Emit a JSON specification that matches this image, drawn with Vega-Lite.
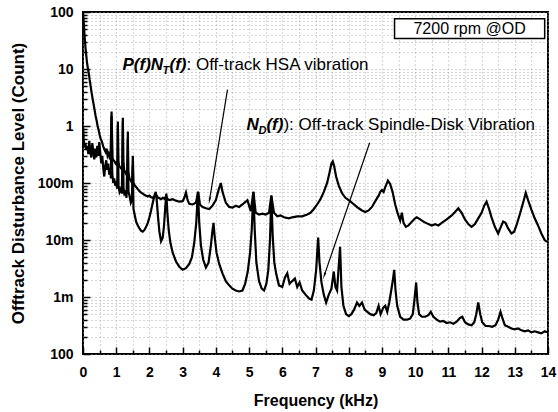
{
  "$schema": "https://vega.github.io/schema/vega-lite/v6.json",
  "width": 465,
  "height": 342,
  "autosize": {"type": "none"},
  "padding": {"left": 83, "top": 12, "right": 10, "bottom": 58},
  "background": "white",
  "config": {
    "font": "Liberation Sans",
    "view": {"stroke": "black", "strokeWidth": 2}
  },
  "datasets": {
    "spectra": [
      {"s":"PNT","f":0,"v":100},{"s":"PNT","f":0.02,"v":70},{"s":"PNT","f":0.04,"v":45},{"s":"PNT","f":0.06,"v":30},{"s":"PNT","f":0.08,"v":22},{"s":"PNT","f":0.1,"v":17},{"s":"PNT","f":0.12,"v":13},{"s":"PNT","f":0.15,"v":10},{"s":"PNT","f":0.18,"v":8},{"s":"PNT","f":0.2,"v":6.5},{"s":"PNT","f":0.23,"v":5},{"s":"PNT","f":0.26,"v":3.8},{"s":"PNT","f":0.29,"v":3},{"s":"PNT","f":0.32,"v":2.4},{"s":"PNT","f":0.35,"v":1.9},{"s":"PNT","f":0.38,"v":1.5},{"s":"PNT","f":0.41,"v":1.25},{"s":"PNT","f":0.44,"v":1.0},{"s":"PNT","f":0.47,"v":0.85},{"s":"PNT","f":0.5,"v":0.7},{"s":"PNT","f":0.53,"v":0.6},{"s":"PNT","f":0.56,"v":0.55},{"s":"PNT","f":0.59,"v":0.48},{"s":"PNT","f":0.62,"v":0.42},{"s":"PNT","f":0.65,"v":0.38},{"s":"PNT","f":0.68,"v":0.35},{"s":"PNT","f":0.71,"v":0.4},{"s":"PNT","f":0.74,"v":0.3},{"s":"PNT","f":0.77,"v":0.33},{"s":"PNT","f":0.8,"v":0.28},{"s":"PNT","f":0.83,"v":0.3},{"s":"PNT","f":0.85,"v":1.0},{"s":"PNT","f":0.86,"v":1.8},{"s":"PNT","f":0.87,"v":0.9},{"s":"PNT","f":0.89,"v":0.27},{"s":"PNT","f":0.92,"v":0.25},{"s":"PNT","f":0.95,"v":0.24},{"s":"PNT","f":0.98,"v":0.22},{"s":"PNT","f":1.01,"v":0.21},{"s":"PNT","f":1.04,"v":0.25},{"s":"PNT","f":1.05,"v":1.2},{"s":"PNT","f":1.06,"v":0.24},{"s":"PNT","f":1.09,"v":0.2},{"s":"PNT","f":1.12,"v":0.19},{"s":"PNT","f":1.15,"v":0.18},{"s":"PNT","f":1.19,"v":0.2},{"s":"PNT","f":1.2,"v":1.4},{"s":"PNT","f":1.21,"v":0.25},{"s":"PNT","f":1.24,"v":0.17},{"s":"PNT","f":1.28,"v":0.15},{"s":"PNT","f":1.31,"v":0.14},{"s":"PNT","f":1.34,"v":0.16},{"s":"PNT","f":1.35,"v":0.8},{"s":"PNT","f":1.36,"v":0.16},{"s":"PNT","f":1.4,"v":0.12},{"s":"PNT","f":1.44,"v":0.11},{"s":"PNT","f":1.48,"v":0.1},{"s":"PNT","f":1.5,"v":0.3},{"s":"PNT","f":1.52,"v":0.1},{"s":"PNT","f":1.56,"v":0.09},{"s":"PNT","f":1.6,"v":0.085},{"s":"PNT","f":1.65,"v":0.078},{"s":"PNT","f":1.7,"v":0.072},{"s":"PNT","f":1.75,"v":0.068},{"s":"PNT","f":1.8,"v":0.065},{"s":"PNT","f":1.85,"v":0.062},{"s":"PNT","f":1.9,"v":0.06},{"s":"PNT","f":1.95,"v":0.058},{"s":"PNT","f":2.0,"v":0.06},{"s":"PNT","f":2.05,"v":0.056},{"s":"PNT","f":2.1,"v":0.055},{"s":"PNT","f":2.15,"v":0.058},{"s":"PNT","f":2.2,"v":0.062},{"s":"PNT","f":2.25,"v":0.056},{"s":"PNT","f":2.3,"v":0.054},{"s":"PNT","f":2.35,"v":0.052},{"s":"PNT","f":2.4,"v":0.055},{"s":"PNT","f":2.45,"v":0.053},{"s":"PNT","f":2.5,"v":0.058},{"s":"PNT","f":2.55,"v":0.052},{"s":"PNT","f":2.6,"v":0.05},{"s":"PNT","f":2.7,"v":0.052},{"s":"PNT","f":2.8,"v":0.049},{"s":"PNT","f":2.9,"v":0.047},{"s":"PNT","f":3.0,"v":0.048},{"s":"PNT","f":3.05,"v":0.055},{"s":"PNT","f":3.1,"v":0.068},{"s":"PNT","f":3.15,"v":0.05},{"s":"PNT","f":3.2,"v":0.043},{"s":"PNT","f":3.3,"v":0.042},{"s":"PNT","f":3.4,"v":0.045},{"s":"PNT","f":3.47,"v":0.07},{"s":"PNT","f":3.52,"v":0.042},{"s":"PNT","f":3.6,"v":0.038},{"s":"PNT","f":3.7,"v":0.036},{"s":"PNT","f":3.8,"v":0.035},{"s":"PNT","f":3.9,"v":0.04},{"s":"PNT","f":4.0,"v":0.05},{"s":"PNT","f":4.08,"v":0.075},{"s":"PNT","f":4.15,"v":0.1},{"s":"PNT","f":4.2,"v":0.07},{"s":"PNT","f":4.3,"v":0.045},{"s":"PNT","f":4.4,"v":0.038},{"s":"PNT","f":4.5,"v":0.037},{"s":"PNT","f":4.6,"v":0.04},{"s":"PNT","f":4.7,"v":0.038},{"s":"PNT","f":4.8,"v":0.042},{"s":"PNT","f":4.9,"v":0.047},{"s":"PNT","f":4.95,"v":0.05},{"s":"PNT","f":5.0,"v":0.04},{"s":"PNT","f":5.05,"v":0.032},{"s":"PNT","f":5.13,"v":0.07},{"s":"PNT","f":5.2,"v":0.03},{"s":"PNT","f":5.3,"v":0.028},{"s":"PNT","f":5.4,"v":0.029},{"s":"PNT","f":5.5,"v":0.028},{"s":"PNT","f":5.6,"v":0.03},{"s":"PNT","f":5.67,"v":0.06},{"s":"PNT","f":5.75,"v":0.03},{"s":"PNT","f":5.85,"v":0.026},{"s":"PNT","f":5.95,"v":0.027},{"s":"PNT","f":6.05,"v":0.025},{"s":"PNT","f":6.2,"v":0.024},{"s":"PNT","f":6.3,"v":0.025},{"s":"PNT","f":6.45,"v":0.026},{"s":"PNT","f":6.6,"v":0.026},{"s":"PNT","f":6.75,"v":0.028},{"s":"PNT","f":6.85,"v":0.03},{"s":"PNT","f":6.95,"v":0.035},{"s":"PNT","f":7.05,"v":0.042},{"s":"PNT","f":7.15,"v":0.052},{"s":"PNT","f":7.25,"v":0.07},{"s":"PNT","f":7.35,"v":0.1},{"s":"PNT","f":7.42,"v":0.15},{"s":"PNT","f":7.48,"v":0.22},{"s":"PNT","f":7.52,"v":0.24},{"s":"PNT","f":7.56,"v":0.2},{"s":"PNT","f":7.62,"v":0.13},{"s":"PNT","f":7.7,"v":0.09},{"s":"PNT","f":7.8,"v":0.066},{"s":"PNT","f":7.9,"v":0.055},{"s":"PNT","f":8.0,"v":0.05},{"s":"PNT","f":8.1,"v":0.045},{"s":"PNT","f":8.2,"v":0.04},{"s":"PNT","f":8.3,"v":0.036},{"s":"PNT","f":8.4,"v":0.033},{"s":"PNT","f":8.5,"v":0.031},{"s":"PNT","f":8.6,"v":0.033},{"s":"PNT","f":8.7,"v":0.038},{"s":"PNT","f":8.8,"v":0.048},{"s":"PNT","f":8.9,"v":0.06},{"s":"PNT","f":8.95,"v":0.07},{"s":"PNT","f":9.0,"v":0.075},{"s":"PNT","f":9.05,"v":0.07},{"s":"PNT","f":9.1,"v":0.085},{"s":"PNT","f":9.18,"v":0.11},{"s":"PNT","f":9.25,"v":0.095},{"s":"PNT","f":9.32,"v":0.07},{"s":"PNT","f":9.4,"v":0.042},{"s":"PNT","f":9.47,"v":0.03},{"s":"PNT","f":9.55,"v":0.022},{"s":"PNT","f":9.6,"v":0.03},{"s":"PNT","f":9.65,"v":0.02},{"s":"PNT","f":9.72,"v":0.017},{"s":"PNT","f":9.8,"v":0.018},{"s":"PNT","f":9.9,"v":0.021},{"s":"PNT","f":10.0,"v":0.024},{"s":"PNT","f":10.05,"v":0.025},{"s":"PNT","f":10.15,"v":0.023},{"s":"PNT","f":10.25,"v":0.021},{"s":"PNT","f":10.4,"v":0.019},{"s":"PNT","f":10.5,"v":0.018},{"s":"PNT","f":10.6,"v":0.019},{"s":"PNT","f":10.7,"v":0.018},{"s":"PNT","f":10.8,"v":0.02},{"s":"PNT","f":10.95,"v":0.023},{"s":"PNT","f":11.1,"v":0.027},{"s":"PNT","f":11.2,"v":0.031},{"s":"PNT","f":11.3,"v":0.036},{"s":"PNT","f":11.4,"v":0.03},{"s":"PNT","f":11.5,"v":0.023},{"s":"PNT","f":11.6,"v":0.019},{"s":"PNT","f":11.7,"v":0.017},{"s":"PNT","f":11.8,"v":0.019},{"s":"PNT","f":11.9,"v":0.024},{"s":"PNT","f":12.0,"v":0.03},{"s":"PNT","f":12.08,"v":0.04},{"s":"PNT","f":12.15,"v":0.047},{"s":"PNT","f":12.22,"v":0.036},{"s":"PNT","f":12.3,"v":0.025},{"s":"PNT","f":12.4,"v":0.017},{"s":"PNT","f":12.5,"v":0.013},{"s":"PNT","f":12.58,"v":0.017},{"s":"PNT","f":12.65,"v":0.021},{"s":"PNT","f":12.72,"v":0.02},{"s":"PNT","f":12.8,"v":0.016},{"s":"PNT","f":12.9,"v":0.013},{"s":"PNT","f":12.98,"v":0.014},{"s":"PNT","f":13.05,"v":0.018},{"s":"PNT","f":13.15,"v":0.028},{"s":"PNT","f":13.25,"v":0.045},{"s":"PNT","f":13.33,"v":0.067},{"s":"PNT","f":13.4,"v":0.05},{"s":"PNT","f":13.5,"v":0.034},{"s":"PNT","f":13.6,"v":0.024},{"s":"PNT","f":13.7,"v":0.018},{"s":"PNT","f":13.8,"v":0.013},{"s":"PNT","f":13.9,"v":0.01},{"s":"PNT","f":13.97,"v":0.0093},
      {"s":"ND","f":0,"v":1.0},{"s":"ND","f":0.02,"v":0.6},{"s":"ND","f":0.04,"v":0.42},{"s":"ND","f":0.07,"v":0.5},{"s":"ND","f":0.1,"v":0.38},{"s":"ND","f":0.13,"v":0.45},{"s":"ND","f":0.16,"v":0.32},{"s":"ND","f":0.19,"v":0.55},{"s":"ND","f":0.22,"v":0.35},{"s":"ND","f":0.25,"v":0.28},{"s":"ND","f":0.28,"v":0.5},{"s":"ND","f":0.31,"v":0.36},{"s":"ND","f":0.34,"v":0.26},{"s":"ND","f":0.37,"v":0.4},{"s":"ND","f":0.4,"v":0.28},{"s":"ND","f":0.43,"v":0.45},{"s":"ND","f":0.46,"v":0.3},{"s":"ND","f":0.49,"v":0.52},{"s":"ND","f":0.52,"v":0.34},{"s":"ND","f":0.55,"v":0.22},{"s":"ND","f":0.58,"v":0.3},{"s":"ND","f":0.61,"v":0.18},{"s":"ND","f":0.64,"v":0.13},{"s":"ND","f":0.67,"v":0.2},{"s":"ND","f":0.7,"v":0.25},{"s":"ND","f":0.73,"v":0.17},{"s":"ND","f":0.76,"v":0.22},{"s":"ND","f":0.79,"v":0.14},{"s":"ND","f":0.82,"v":0.18},{"s":"ND","f":0.84,"v":0.12},{"s":"ND","f":0.86,"v":1.5},{"s":"ND","f":0.88,"v":0.15},{"s":"ND","f":0.91,"v":0.1},{"s":"ND","f":0.94,"v":0.12},{"s":"ND","f":0.97,"v":0.09},{"s":"ND","f":1.0,"v":0.1},{"s":"ND","f":1.03,"v":0.08},{"s":"ND","f":1.05,"v":1.0},{"s":"ND","f":1.07,"v":0.09},{"s":"ND","f":1.1,"v":0.07},{"s":"ND","f":1.14,"v":0.08},{"s":"ND","f":1.17,"v":0.065},{"s":"ND","f":1.2,"v":1.2},{"s":"ND","f":1.22,"v":0.08},{"s":"ND","f":1.25,"v":0.06},{"s":"ND","f":1.28,"v":0.075},{"s":"ND","f":1.31,"v":0.055},{"s":"ND","f":1.35,"v":0.6},{"s":"ND","f":1.37,"v":0.07},{"s":"ND","f":1.4,"v":0.06},{"s":"ND","f":1.44,"v":0.045},{"s":"ND","f":1.47,"v":0.05},{"s":"ND","f":1.5,"v":0.2},{"s":"ND","f":1.52,"v":0.035},{"s":"ND","f":1.56,"v":0.027},{"s":"ND","f":1.6,"v":0.021},{"s":"ND","f":1.65,"v":0.018},{"s":"ND","f":1.7,"v":0.016},{"s":"ND","f":1.75,"v":0.0145},{"s":"ND","f":1.8,"v":0.014},{"s":"ND","f":1.85,"v":0.015},{"s":"ND","f":1.9,"v":0.017},{"s":"ND","f":1.95,"v":0.02},{"s":"ND","f":2.0,"v":0.025},{"s":"ND","f":2.05,"v":0.033},{"s":"ND","f":2.1,"v":0.045},{"s":"ND","f":2.15,"v":0.06},{"s":"ND","f":2.19,"v":0.07},{"s":"ND","f":2.22,"v":0.05},{"s":"ND","f":2.26,"v":0.025},{"s":"ND","f":2.3,"v":0.014},{"s":"ND","f":2.35,"v":0.0095},{"s":"ND","f":2.4,"v":0.011},{"s":"ND","f":2.44,"v":0.018},{"s":"ND","f":2.48,"v":0.04},{"s":"ND","f":2.51,"v":0.065},{"s":"ND","f":2.54,"v":0.03},{"s":"ND","f":2.58,"v":0.015},{"s":"ND","f":2.63,"v":0.009},{"s":"ND","f":2.7,"v":0.006},{"s":"ND","f":2.8,"v":0.0042},{"s":"ND","f":2.9,"v":0.0034},{"s":"ND","f":3.0,"v":0.003},{"s":"ND","f":3.1,"v":0.0032},{"s":"ND","f":3.2,"v":0.0038},{"s":"ND","f":3.28,"v":0.005},{"s":"ND","f":3.35,"v":0.009},{"s":"ND","f":3.41,"v":0.02},{"s":"ND","f":3.46,"v":0.07},{"s":"ND","f":3.5,"v":0.02},{"s":"ND","f":3.55,"v":0.008},{"s":"ND","f":3.62,"v":0.0045},{"s":"ND","f":3.7,"v":0.0033},{"s":"ND","f":3.78,"v":0.004},{"s":"ND","f":3.85,"v":0.008},{"s":"ND","f":3.9,"v":0.015},{"s":"ND","f":3.93,"v":0.02},{"s":"ND","f":3.96,"v":0.012},{"s":"ND","f":4.02,"v":0.006},{"s":"ND","f":4.1,"v":0.0038},{"s":"ND","f":4.2,"v":0.0026},{"s":"ND","f":4.3,"v":0.0019},{"s":"ND","f":4.4,"v":0.0016},{"s":"ND","f":4.5,"v":0.0014},{"s":"ND","f":4.6,"v":0.0013},{"s":"ND","f":4.7,"v":0.00125},{"s":"ND","f":4.8,"v":0.0013},{"s":"ND","f":4.88,"v":0.0017},{"s":"ND","f":4.96,"v":0.0028},{"s":"ND","f":5.03,"v":0.006},{"s":"ND","f":5.08,"v":0.015},{"s":"ND","f":5.13,"v":0.07},{"s":"ND","f":5.17,"v":0.015},{"s":"ND","f":5.22,"v":0.004},{"s":"ND","f":5.3,"v":0.0019},{"s":"ND","f":5.38,"v":0.0014},{"s":"ND","f":5.45,"v":0.0013},{"s":"ND","f":5.52,"v":0.0017},{"s":"ND","f":5.58,"v":0.003},{"s":"ND","f":5.63,"v":0.01},{"s":"ND","f":5.67,"v":0.06},{"s":"ND","f":5.71,"v":0.012},{"s":"ND","f":5.76,"v":0.004},{"s":"ND","f":5.82,"v":0.0025},{"s":"ND","f":5.9,"v":0.0016},{"s":"ND","f":6.0,"v":0.0015},{"s":"ND","f":6.08,"v":0.0022},{"s":"ND","f":6.15,"v":0.0026},{"s":"ND","f":6.22,"v":0.0017},{"s":"ND","f":6.3,"v":0.0019},{"s":"ND","f":6.38,"v":0.0021},{"s":"ND","f":6.45,"v":0.0015},{"s":"ND","f":6.52,"v":0.0018},{"s":"ND","f":6.6,"v":0.0013},{"s":"ND","f":6.7,"v":0.0011},{"s":"ND","f":6.8,"v":0.00095},{"s":"ND","f":6.88,"v":0.0009},{"s":"ND","f":6.95,"v":0.0013},{"s":"ND","f":7.02,"v":0.003},{"s":"ND","f":7.08,"v":0.011},{"s":"ND","f":7.12,"v":0.004},{"s":"ND","f":7.18,"v":0.0018},{"s":"ND","f":7.25,"v":0.0011},{"s":"ND","f":7.32,"v":0.0008},{"s":"ND","f":7.4,"v":0.0011},{"s":"ND","f":7.48,"v":0.0014},{"s":"ND","f":7.55,"v":0.0028},{"s":"ND","f":7.6,"v":0.0015},{"s":"ND","f":7.65,"v":0.0013},{"s":"ND","f":7.7,"v":0.0035},{"s":"ND","f":7.74,"v":0.0076},{"s":"ND","f":7.78,"v":0.0015},{"s":"ND","f":7.84,"v":0.0007},{"s":"ND","f":7.92,"v":0.0005},{"s":"ND","f":8.0,"v":0.00046},{"s":"ND","f":8.08,"v":0.0005},{"s":"ND","f":8.16,"v":0.0006},{"s":"ND","f":8.25,"v":0.0008},{"s":"ND","f":8.32,"v":0.0007},{"s":"ND","f":8.4,"v":0.0008},{"s":"ND","f":8.48,"v":0.0006},{"s":"ND","f":8.56,"v":0.00055},{"s":"ND","f":8.65,"v":0.0005},{"s":"ND","f":8.75,"v":0.00048},{"s":"ND","f":8.83,"v":0.00052},{"s":"ND","f":8.9,"v":0.0007},{"s":"ND","f":8.96,"v":0.0005},{"s":"ND","f":9.04,"v":0.00065},{"s":"ND","f":9.1,"v":0.0007},{"s":"ND","f":9.16,"v":0.00055},{"s":"ND","f":9.22,"v":0.0008},{"s":"ND","f":9.28,"v":0.0013},{"s":"ND","f":9.33,"v":0.002},{"s":"ND","f":9.37,"v":0.003},{"s":"ND","f":9.41,"v":0.0013},{"s":"ND","f":9.46,"v":0.0007},{"s":"ND","f":9.55,"v":0.00045},{"s":"ND","f":9.65,"v":0.0004},{"s":"ND","f":9.75,"v":0.0004},{"s":"ND","f":9.85,"v":0.00042},{"s":"ND","f":9.93,"v":0.0005},{"s":"ND","f":9.98,"v":0.0009},{"s":"ND","f":10.03,"v":0.0018},{"s":"ND","f":10.07,"v":0.0008},{"s":"ND","f":10.12,"v":0.0005},{"s":"ND","f":10.2,"v":0.00045},{"s":"ND","f":10.3,"v":0.00045},{"s":"ND","f":10.4,"v":0.00048},{"s":"ND","f":10.47,"v":0.00055},{"s":"ND","f":10.55,"v":0.00045},{"s":"ND","f":10.65,"v":0.0004},{"s":"ND","f":10.75,"v":0.00037},{"s":"ND","f":10.85,"v":0.00038},{"s":"ND","f":10.95,"v":0.00035},{"s":"ND","f":11.05,"v":0.00036},{"s":"ND","f":11.15,"v":0.00034},{"s":"ND","f":11.25,"v":0.00037},{"s":"ND","f":11.35,"v":0.00043},{"s":"ND","f":11.42,"v":0.00045},{"s":"ND","f":11.5,"v":0.00036},{"s":"ND","f":11.6,"v":0.00033},{"s":"ND","f":11.7,"v":0.00032},{"s":"ND","f":11.78,"v":0.00036},{"s":"ND","f":11.84,"v":0.0005},{"s":"ND","f":11.9,"v":0.0008},{"s":"ND","f":11.96,"v":0.0005},{"s":"ND","f":12.02,"v":0.00036},{"s":"ND","f":12.12,"v":0.00031},{"s":"ND","f":12.22,"v":0.00031},{"s":"ND","f":12.32,"v":0.0003},{"s":"ND","f":12.42,"v":0.00032},{"s":"ND","f":12.5,"v":0.0004},{"s":"ND","f":12.57,"v":0.00055},{"s":"ND","f":12.63,"v":0.00042},{"s":"ND","f":12.7,"v":0.00032},{"s":"ND","f":12.8,"v":0.0003},{"s":"ND","f":12.9,"v":0.00028},{"s":"ND","f":13.0,"v":0.00027},{"s":"ND","f":13.1,"v":0.00028},{"s":"ND","f":13.2,"v":0.00026},{"s":"ND","f":13.3,"v":0.00025},{"s":"ND","f":13.4,"v":0.00026},{"s":"ND","f":13.5,"v":0.00024},{"s":"ND","f":13.6,"v":0.00025},{"s":"ND","f":13.7,"v":0.00024},{"s":"ND","f":13.8,"v":0.00023},{"s":"ND","f":13.9,"v":0.00025},{"s":"ND","f":13.97,"v":0.00024}
    ],
    "arrows": [
      {"id":"hsa","f":4.35,"v":4.35},{"id":"hsa","f":3.81,"v":0.0507},
      {"id":"nd","f":8.63,"v":0.509},{"id":"nd","f":7.27,"v":0.00244}
    ],
    "heads": [
      {"id":"hsa","f":3.81,"v":0.0507},
      {"id":"nd","f":7.27,"v":0.00244}
    ],
    "notes": [
      {"id":"hsa","f":1.19,"v":11.9},
      {"id":"nd","f":4.92,"v":1.05}
    ],
    "box": [
      {"f":9.38,"f2":13.9,"v":76.5,"v2":34.2}
    ],
    "boxlabel": [
      {"f":11.64,"v":51.1,"label":"7200 rpm @OD"}
    ]
  },
  "encoding": {
    "x": {
      "field": "f", "type": "quantitative",
      "scale": {"domain": [0, 14], "nice": false, "zero": false},
      "axis": {
        "title": "Frequency (kHz)",
        "values": [0,0.5,1,1.5,2,2.5,3,3.5,4,4.5,5,5.5,6,6.5,7,7.5,8,8.5,9,9.5,10,10.5,11,11.5,12,12.5,13,13.5,14],
        "labelExpr": "round(datum.value) == datum.value ? format(datum.value, 'd') : ''",
        "tickSize": {"condition": {"test": "round(datum.value) == datum.value", "value": -7}, "value": -4},
        "tickColor": "black", "tickWidth": 1.5,
        "domain": false,
        "grid": true, "gridDash": [1, 3], "gridColor": "#999", "gridWidth": 1, "gridOpacity": 0.8,
        "labelFlush": false, "labelOverlap": false, "labelBound": false,
        "labelFont": "Liberation Sans", "labelFontWeight": "bold", "labelFontSize": 14, "labelColor": "black",
        "labelPadding": 18,
        "titleFont": "Liberation Sans", "titleFontWeight": "bold", "titleFontSize": 16, "titleColor": "black",
        "titlePadding": 10
      }
    },
    "y": {
      "field": "v", "type": "quantitative",
      "scale": {"type": "log", "domain": [0.0001, 100], "nice": false},
      "axis": {
        "title": "Offtrack Disturbance Level (Count)",
        "values": [0.0001,0.0002,0.0003,0.0004,0.0005,0.0006,0.0007,0.0008,0.0009,0.001,0.002,0.003,0.004,0.005,0.006,0.007,0.008,0.009,0.01,0.02,0.03,0.04,0.05,0.06,0.07,0.08,0.09,0.1,0.2,0.3,0.4,0.5,0.6,0.7,0.8,0.9,1,2,3,4,5,6,7,8,9,10,20,30,40,50,60,70,80,90,100],
        "labelExpr": "abs(log(datum.value)/LN10 - round(log(datum.value)/LN10)) < 0.001 ? (round(log(datum.value)/LN10) == -4 ? '100' : round(log(datum.value)/LN10) == -3 ? '1m' : round(log(datum.value)/LN10) == -2 ? '10m' : round(log(datum.value)/LN10) == -1 ? '100m' : round(log(datum.value)/LN10) == 0 ? '1' : round(log(datum.value)/LN10) == 1 ? '10' : '100') : ''",
        "tickSize": {"condition": {"test": "abs(log(datum.value)/LN10 - round(log(datum.value)/LN10)) < 0.001", "value": -7}, "value": -4},
        "tickColor": "black", "tickWidth": 1.5,
        "domain": false,
        "grid": true, "gridDash": [1, 3], "gridColor": "#999", "gridWidth": 1, "gridOpacity": 0.8,
        "labelFlush": false, "labelOverlap": false, "labelBound": false,
        "labelFont": "Liberation Sans", "labelFontWeight": "bold", "labelFontSize": 14, "labelColor": "black",
        "labelPadding": 17,
        "titleFont": "Liberation Sans", "titleFontWeight": "bold", "titleFontSize": 17, "titleColor": "black",
        "titlePadding": 10
      }
    }
  },
  "layer": [
    {
      "data": {"name": "spectra"},
      "mark": {"type": "line", "color": "black", "strokeWidth": 2.2, "clip": true},
      "encoding": {"detail": {"field": "s", "type": "nominal"}}
    },
    {
      "data": {"name": "arrows"},
      "mark": {"type": "line", "color": "black", "strokeWidth": 1.2},
      "encoding": {"detail": {"field": "id", "type": "nominal"}}
    },
    {
      "data": {"name": "heads"},
      "transform": [{"filter": "datum.id == 'hsa'"}],
      "mark": {"type": "point", "shape": "wedge", "angle": 189, "size": 70, "filled": true, "color": "black", "opacity": 1},
      "encoding": {}
    },
    {
      "data": {"name": "heads"},
      "transform": [{"filter": "datum.id == 'nd'"}],
      "mark": {"type": "point", "shape": "wedge", "angle": 199, "size": 70, "filled": true, "color": "black", "opacity": 1},
      "encoding": {}
    },
    {
      "data": {"name": "box"},
      "mark": {"type": "rect", "fill": "white", "stroke": "black", "strokeWidth": 1.5},
      "encoding": {
        "x2": {"field": "f2"},
        "y2": {"field": "v2"}
      }
    },
    {
      "data": {"name": "boxlabel"},
      "mark": {"type": "text", "font": "Liberation Sans", "fontSize": 16, "color": "black", "align": "center", "baseline": "middle"},
      "encoding": {"text": {"field": "label"}}
    },
    {
      "data": {"name": "notes"},
      "transform": [{"filter": "datum.id == 'hsa'"}],
      "layer": [
        {"mark": {"type": "text", "text": "P(f)N", "font": "Liberation Sans", "fontSize": 17, "fontWeight": "bold", "fontStyle": "italic", "color": "black", "align": "left", "baseline": "middle", "dx": 0}},
        {"mark": {"type": "text", "text": "T", "font": "Liberation Sans", "fontSize": 11, "fontWeight": "bold", "fontStyle": "italic", "color": "black", "align": "left", "baseline": "middle", "dx": 40, "dy": 6}},
        {"mark": {"type": "text", "text": "(f)", "font": "Liberation Sans", "fontSize": 17, "fontWeight": "bold", "fontStyle": "italic", "color": "black", "align": "left", "baseline": "middle", "dx": 47}},
        {"mark": {"type": "text", "text": ": Off-track HSA vibration", "font": "Liberation Sans", "fontSize": 17, "color": "black", "align": "left", "baseline": "middle", "dx": 64}}
      ]
    },
    {
      "data": {"name": "notes"},
      "transform": [{"filter": "datum.id == 'nd'"}],
      "layer": [
        {"mark": {"type": "text", "text": "N", "font": "Liberation Sans", "fontSize": 17, "fontWeight": "bold", "fontStyle": "italic", "color": "black", "align": "left", "baseline": "middle", "dx": 0}},
        {"mark": {"type": "text", "text": "D", "font": "Liberation Sans", "fontSize": 11, "fontWeight": "bold", "fontStyle": "italic", "color": "black", "align": "left", "baseline": "middle", "dx": 12, "dy": 6}},
        {"mark": {"type": "text", "text": "(f)", "font": "Liberation Sans", "fontSize": 17, "fontWeight": "bold", "fontStyle": "italic", "color": "black", "align": "left", "baseline": "middle", "dx": 20}},
        {"mark": {"type": "text", "text": "): Off-track Spindle-Disk Vibration", "font": "Liberation Sans", "fontSize": 17, "color": "black", "align": "left", "baseline": "middle", "dx": 37}}
      ]
    }
  ]
}
